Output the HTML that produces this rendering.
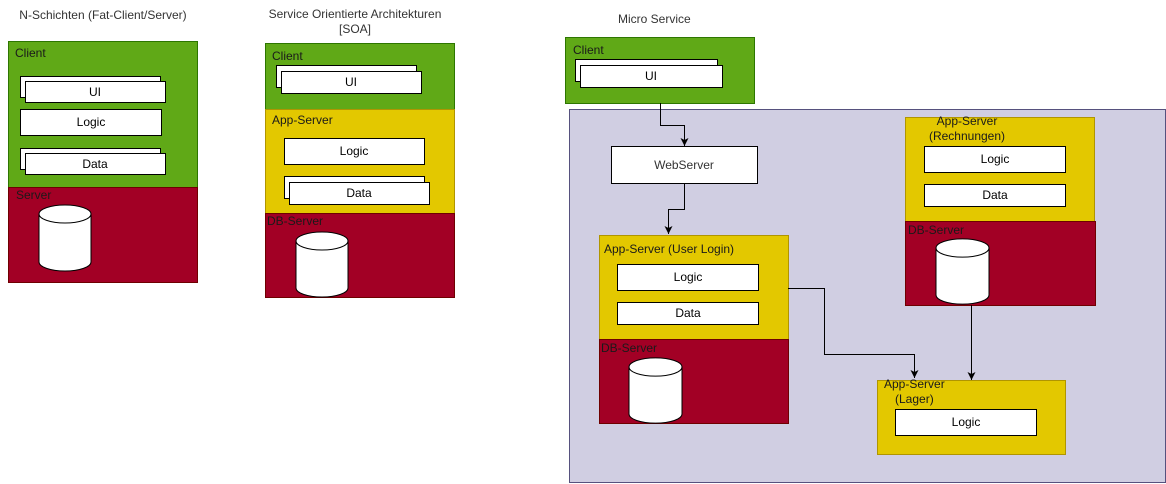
<!DOCTYPE html>
<html><head><meta charset="utf-8"><style>
html,body{margin:0;padding:0;background:#fff;}
svg{display:block;font-family:"Liberation Sans",Arial,sans-serif;font-size:12px;}
</style></head><body>
<svg width="1166" height="484" viewBox="0 0 1166 484" xmlns="http://www.w3.org/2000/svg">
<defs>
<marker id="ar" markerWidth="8" markerHeight="8" refX="8" refY="4" orient="auto" markerUnits="userSpaceOnUse" viewBox="0 0 8 8">
<path d="M0,0 L8,4 L0,8 L2,4 Z" fill="#000"/>
</marker>
</defs>
<g fill="#333">
<text x="103" y="19" text-anchor="middle">N-Schichten (Fat-Client/Server)</text>
<text x="355" y="18" text-anchor="middle">Service Orientierte Architekturen</text>
<text x="355" y="33" text-anchor="middle">[SOA]</text>
<text x="618" y="23">Micro Service</text>
</g>

<!-- Panel 1 -->
<rect x="8.5" y="41.5" width="189" height="146" fill="#60a917" stroke="#2d7600"/>
<rect x="8.5" y="187.5" width="189" height="95" fill="#a20025" stroke="#6f0000"/>
<text x="15" y="57" fill="#1a1a1a">Client</text>
<text x="16" y="199" fill="#1a1a1a">Server</text>
<rect x="20.5" y="76.5" width="140" height="21" fill="#fff" stroke="#000"/>
<rect x="25.5" y="81.5" width="140" height="21" fill="#fff" stroke="#000"/>
<text x="95" y="96" text-anchor="middle">UI</text>
<rect x="20.5" y="109.5" width="141" height="26" fill="#fff" stroke="#000"/>
<text x="91" y="126" text-anchor="middle">Logic</text>
<rect x="20.5" y="148.5" width="140" height="21" fill="#fff" stroke="#000"/>
<rect x="25.5" y="153.5" width="140" height="21" fill="#fff" stroke="#000"/>
<text x="95" y="168" text-anchor="middle">Data</text>
<path d="M39,214 a26,9 0 0 1 52,0 v48 a26,9 0 0 1 -52,0 Z" fill="#fff" stroke="#000"/><path d="M39,214 a26,9 0 0 0 52,0" fill="none" stroke="#000"/>

<!-- Panel 2 -->
<rect x="265.5" y="43.5" width="189" height="66" fill="#60a917" stroke="#2d7600"/>
<rect x="265.5" y="109.5" width="189" height="104" fill="#e3c800" stroke="#b09500"/>
<rect x="265.5" y="213.5" width="189" height="84" fill="#a20025" stroke="#6f0000"/>
<text x="272" y="60" fill="#1a1a1a">Client</text>
<text x="272" y="124" fill="#1a1a1a">App-Server</text>
<text x="267" y="225" fill="#1a1a1a">DB-Server</text>
<rect x="276.5" y="65.5" width="140" height="22" fill="#fff" stroke="#000"/>
<rect x="281.5" y="71.5" width="140" height="22" fill="#fff" stroke="#000"/>
<text x="351" y="86" text-anchor="middle">UI</text>
<rect x="284.5" y="138.5" width="140" height="26" fill="#fff" stroke="#000"/>
<text x="354" y="155" text-anchor="middle">Logic</text>
<rect x="284.5" y="176.5" width="140" height="22" fill="#fff" stroke="#000"/>
<rect x="289.5" y="182.5" width="140" height="22" fill="#fff" stroke="#000"/>
<text x="359" y="197" text-anchor="middle">Data</text>
<path d="M296,241 a26,9 0 0 1 52,0 v47 a26,9 0 0 1 -52,0 Z" fill="#fff" stroke="#000"/><path d="M296,241 a26,9 0 0 0 52,0" fill="none" stroke="#000"/>

<!-- Panel 3 -->
<rect x="565.5" y="37.5" width="189" height="66" fill="#60a917" stroke="#2d7600"/>
<text x="573" y="54" fill="#1a1a1a">Client</text>
<rect x="575.5" y="59.5" width="142" height="22" fill="#fff" stroke="#000"/>
<rect x="580.5" y="65.5" width="142" height="22" fill="#fff" stroke="#000"/>
<text x="651" y="80" text-anchor="middle">UI</text>

<rect x="569.5" y="109.5" width="596" height="373" fill="#d0cee2" stroke="#56517e"/>

<rect x="611.5" y="146.5" width="146" height="37" fill="#fff" stroke="#000"/>
<text x="684" y="169" text-anchor="middle" fill="#333">WebServer</text>

<rect x="599.5" y="235.5" width="189" height="104" fill="#e3c800" stroke="#b09500"/>
<text x="604" y="253" fill="#1a1a1a">App-Server (User Login)</text>
<rect x="617.5" y="264.5" width="141" height="26" fill="#fff" stroke="#000"/>
<text x="688" y="281" text-anchor="middle">Logic</text>
<rect x="617.5" y="302.5" width="141" height="22" fill="#fff" stroke="#000"/>
<text x="688" y="317" text-anchor="middle">Data</text>
<rect x="599.5" y="339.5" width="189" height="84" fill="#a20025" stroke="#6f0000"/>
<text x="601" y="352" fill="#1a1a1a">DB-Server</text>
<path d="M629,367 a26,9 0 0 1 53,0 v47 a26,9 0 0 1 -53,0 Z" fill="#fff" stroke="#000"/><path d="M629,367 a26,9 0 0 0 53,0" fill="none" stroke="#000"/>

<rect x="905.5" y="117.5" width="189" height="104" fill="#e3c800" stroke="#b09500"/>
<text x="967" y="125" text-anchor="middle" fill="#1a1a1a">App-Server</text>
<text x="967" y="140" text-anchor="middle" fill="#1a1a1a">(Rechnungen)</text>
<rect x="924.5" y="146.5" width="141" height="26" fill="#fff" stroke="#000"/>
<text x="995" y="163" text-anchor="middle">Logic</text>
<rect x="924.5" y="184.5" width="141" height="22" fill="#fff" stroke="#000"/>
<text x="995" y="199" text-anchor="middle">Data</text>
<rect x="905.5" y="221.5" width="190" height="84" fill="#a20025" stroke="#6f0000"/>
<text x="908" y="234" fill="#1a1a1a">DB-Server</text>
<path d="M936,248 a26,9 0 0 1 53,0 v47 a26,9 0 0 1 -53,0 Z" fill="#fff" stroke="#000"/><path d="M936,248 a26,9 0 0 0 53,0" fill="none" stroke="#000"/>

<rect x="877.5" y="380.5" width="188" height="74" fill="#e3c800" stroke="#b09500"/>
<text x="884" y="388" fill="#1a1a1a">App-Server</text>
<text x="895" y="403" fill="#1a1a1a">(Lager)</text>
<rect x="895.5" y="409.5" width="141" height="26" fill="#fff" stroke="#000"/>
<text x="966" y="426" text-anchor="middle">Logic</text>

<g fill="none" stroke="#000" stroke-width="1">
<path d="M660.5,103 V125.5 H684.5 V146" marker-end="url(#ar)"/>
<path d="M684.5,183 V209.5 H668.5 V234" marker-end="url(#ar)"/>
<path d="M788,288.5 H824.5 V354.5 H914.5 V378" marker-end="url(#ar)"/>
<path d="M971.5,305 V380" marker-end="url(#ar)"/>
</g>
</svg>
</body></html>
